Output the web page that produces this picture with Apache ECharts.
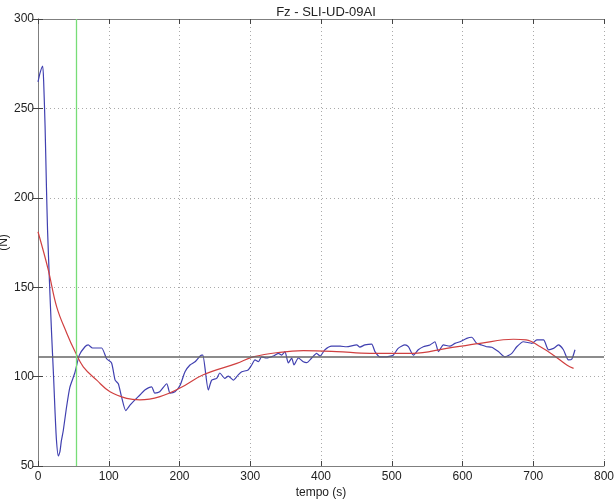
<!DOCTYPE html>
<html>
<head>
<meta charset="utf-8">
<script src="https://cdn.jsdelivr.net/npm/echarts@6/dist/echarts.min.js"></script>
<style>html,body{margin:0;padding:0;background:#fff}#c{width:615px;height:502px}</style>
</head>
<body>
<div id="c"></div>
<script>
var titleText = 'Fz - SLI-UD-09AI';
var xName = 'tempo (s)';
var yName = '(N)';
var xTicks = [0, 100, 200, 300, 400, 500, 600, 700, 800];
var yTicks = [50, 100, 150, 200, 250, 300];
var refLevel = 111;
var markerTime = 54;

var blueT = [0,3,6.6,8,10,12,13.5,16,19,22,24,26,28.7,31,33,35.8,40,45,52,58.4,66.4,71,77,83,90,97,104,109,113.5,118,124,130,137,144,151,160.7,165,172,182,186.6,193.6,200.7,207.8,214.8,222,231.3,233,240.7,245.5,252.5,257,264,269,276,283,288,297,302,306.7,311.4,316,323,332.6,339.6,344.5,349,353.8,358.6,361.8,368,375,379.7,386.8,393.8,398.6,405.6,415,427,436,450.4,455,462,471.6,476.3,483.4,490.4,502,509,518.7,523.5,530.5,537.5,544.6,554,561,566,573,582,589.4,596.5,606,613,620,627,634,641.3,650.7,660,669.7,676.7,686,698,705,714.5,721.5,728.6,735.6,742.6,749.7,754.4,759];
var blueF = [264.8,270,273.7,265,240,205,182,155,126,100,81,65,55.6,58,64,70,82,94,102,112,116.7,117.7,116,116,116,110,107.6,98,96,88.8,81,84,87,89.7,92.5,94.3,90.8,91.5,96,90.8,91.5,95,102.7,106.5,108.3,112,112,92.5,98,99,102,99,100.3,98,101,102.7,103.7,106.5,109.3,108.3,111,110.4,111.5,113,112,114,107.6,110.4,106.5,110.4,108.3,107.8,110.4,113,111.5,115,117,117,116.7,117.7,116.5,117.7,118.2,114,111,111,112,115.8,117.7,116.7,112,115,116.7,117.7,119.5,114,117.7,117,118.6,119.5,121.4,122,118.6,117.7,116.7,116.4,114,111,113,116.7,119.5,118.6,120.5,120.5,115,115.8,117.7,115,109.3,109.7,115];

var redT = [0,14.6,26.4,40.5,52.3,64,83,101.8,125.3,144,172.4,200.7,233.6,281,304,342,375,422,469,530,577.7,624.7,671.9,690,710,728.6,747.4,757];
var redF = [181,159.6,139,124.4,114,105.5,98,91.5,87.8,87,88.8,93.6,101,107.4,111,113.6,114.5,114,113,113,115.8,118.6,120.9,120.5,116.7,112,106.5,104.6];

function pairs(a, b) { return a.map(function (v, i) { return [v, b[i]]; }); }

var chart = echarts.init(document.getElementById('c'), null, {renderer: 'canvas'});
var font = 'Liberation Sans, Arial, sans-serif';
var frame = '#7f7f7f';
chart.setOption({
  animation: false,
  backgroundColor: '#fff',
  title: {
    text: titleText, left: 321, top: 1, textAlign: 'center',
    textStyle: {fontFamily: font, fontSize: 13, fontWeight: 'normal', color: '#222'}
  },
  grid: {left: 38, right: 11, top: 19, bottom: 36, containLabel: false, outerBoundsMode: 'none'},
  xAxis: [{
    type: 'value', min: xTicks[0], max: xTicks[xTicks.length - 1], interval: 100,
    name: xName, nameLocation: 'middle', nameGap: 21, nameMoveOverlap: false,
    nameTextStyle: {fontFamily: font, fontSize: 12, color: '#222'},
    axisLine: {show: true, lineStyle: {color: frame, width: 1}},
    axisTick: {show: true, inside: true, length: 5, lineStyle: {color: '#444'}},
    axisLabel: {fontFamily: font, fontSize: 12, color: '#222', margin: 5},
    splitLine: {show: true, lineStyle: {type: [1, 3], color: '#aaa', width: 1}}
  }, {
    type: 'value', position: 'top', min: xTicks[0], max: xTicks[xTicks.length - 1], interval: 100,
    axisLine: {show: true, lineStyle: {color: frame, width: 1}},
    axisTick: {show: true, inside: true, length: 5, lineStyle: {color: '#444'}},
    axisLabel: {show: false}, splitLine: {show: false}
  }],
  yAxis: [{
    type: 'value', min: yTicks[0], max: yTicks[yTicks.length - 1], interval: 50,
    name: yName, nameLocation: 'middle', nameGap: 28, nameRotate: 90, nameMoveOverlap: false,
    nameTextStyle: {fontFamily: font, fontSize: 12, color: '#222'},
    axisLine: {show: true, lineStyle: {color: frame, width: 1}},
    axisTick: {show: true, inside: true, length: 5, lineStyle: {color: '#444'}},
    axisLabel: {fontFamily: font, fontSize: 12, color: '#222', margin: 4},
    splitLine: {show: true, lineStyle: {type: [1, 3], color: '#aaa', width: 1}}
  }, {
    type: 'value', position: 'right', min: yTicks[0], max: yTicks[yTicks.length - 1], interval: 50,
    axisLine: {show: true, lineStyle: {color: frame, width: 1}},
    axisTick: {show: true, inside: true, length: 5, lineStyle: {color: '#444'}},
    axisLabel: {show: false}, splitLine: {show: false}
  }],
  series: [{
    type: 'line', data: pairs(blueT, blueF), showSymbol: false, symbol: 'none',
    smooth: 0.2, lineStyle: {color: '#4040b0', width: 1.2}, z: 3,
    markLine: {
      silent: true, symbol: 'none', label: {show: false},
      data: [
        {yAxis: refLevel, lineStyle: {color: '#666', width: 1.6, type: 'solid'}},
        {xAxis: markerTime, lineStyle: {color: '#77dd77', width: 1.3, type: 'solid'}}
      ]
    }
  }, {
    type: 'line', data: pairs(redT, redF), showSymbol: false, symbol: 'none',
    smooth: 0.4, lineStyle: {color: '#d04040', width: 1.2}, z: 4
  }]
});
</script>
</body>
</html>
